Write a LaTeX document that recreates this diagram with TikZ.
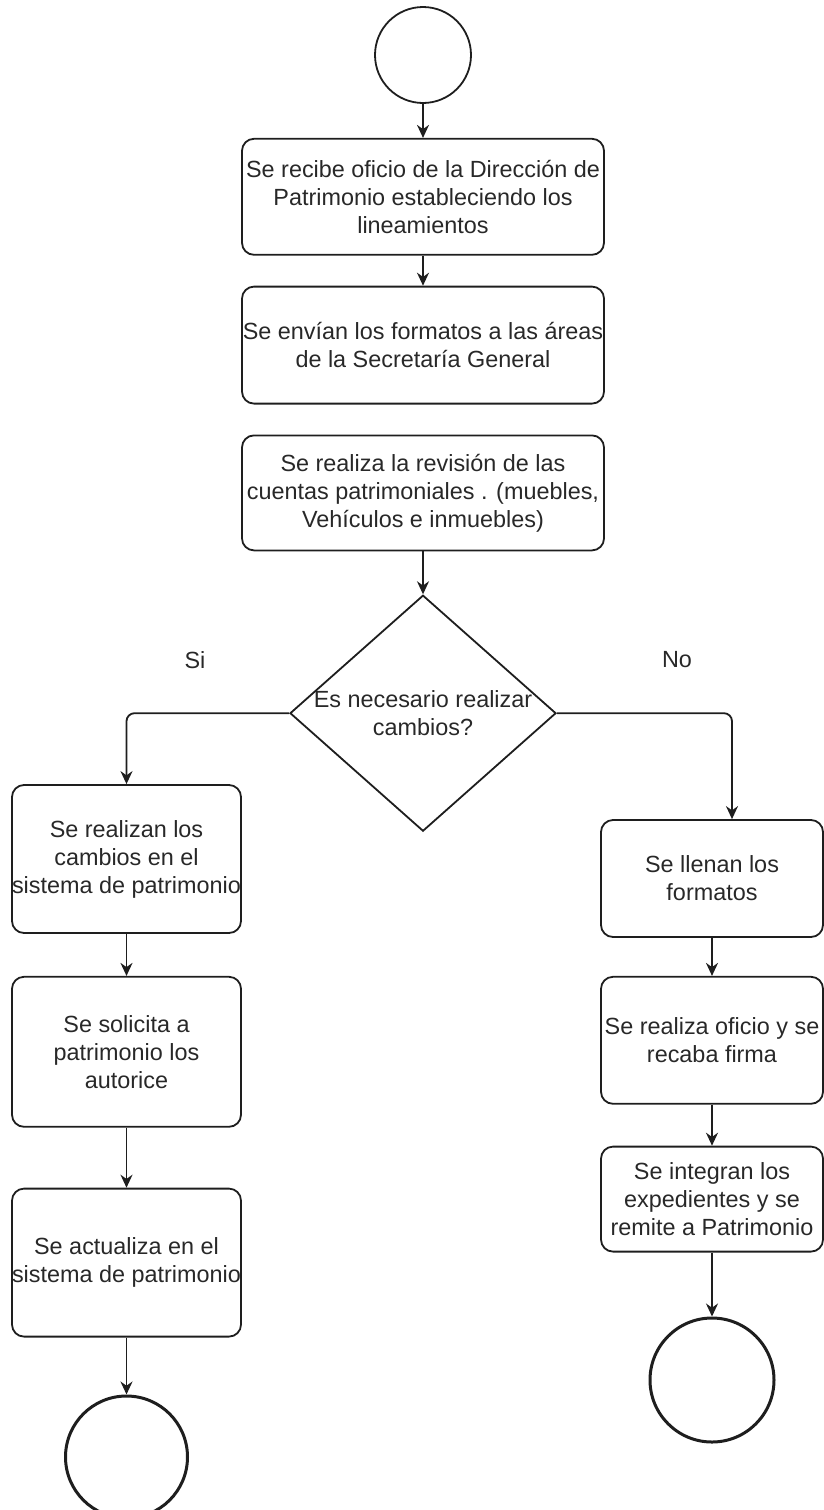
\documentclass[tikz,border=0pt]{standalone}
\usepackage{fontspec}
\setmainfont{Liberation Sans}
\usepackage{tikz}
\usetikzlibrary{arrows.meta, shapes.geometric, positioning}
\definecolor{InkDark}{RGB}{30,30,30}
\definecolor{TextGray}{RGB}{40,40,40}

\begin{document}
\begin{tikzpicture}[
    proc/.style={draw=InkDark,line width=0.9pt,rounded corners=6pt,
                 font=\fontsize{11.7}{14}\selectfont,text=TextGray,
                 inner xsep=0pt,inner ysep=2pt,align=center},
    term/.style={draw=InkDark,circle,inner sep=0pt},
    dec/.style={draw=InkDark,line width=0.9pt,diamond,aspect=1.127,inner sep=0pt,
                minimum width=133pt,minimum height=118pt,
                font=\fontsize{11.7}{14}\selectfont,text=TextGray,align=center},
    lbl/.style={font=\fontsize{11.7}{14}\selectfont,text=TextGray},
    arr/.style={-{Stealth[length=6.5pt,width=6pt]},InkDark,line width=0.9pt}
  ]
  \useasboundingbox (0,0) rectangle (412pt,-755pt);

  % main column
  \node[term,line width=0.9pt,minimum size=48pt] (start) at (211.5pt,-27.5pt) {};
  \node[proc,minimum width=181pt,minimum height=58pt,below=17pt of start] (oficio)
    {Se recibe oficio de la Dirección de\\Patrimonio estableciendo los\\lineamientos};
  \node[proc,minimum width=181pt,minimum height=58.5pt,below=15pt of oficio] (envio)
    {Se envían los formatos a las áreas\\de la Secretaría General};
  \node[proc,minimum width=181pt,minimum height=57.5pt,below=15pt of envio] (revision)
    {Se realiza la revisión de las\\cuentas patrimoniales . (muebles,\\Vehículos e inmuebles)};
  \node[dec,below=21.5pt of revision] (cambios)
    {\makebox[80pt]{Es necesario realizar}\\cambios?};

  \node[lbl] (si) at (97.5pt,-330pt) {Si};
  \node[lbl] (no) at (338.5pt,-330pt) {No};

  % rama Si
  \node[proc,minimum width=114.5pt,minimum height=74pt] (realizan) at (63.25pt,-429.5pt)
    {Se realizan los\\cambios en el\\sistema de patrimonio};
  \node[proc,minimum width=114.5pt,minimum height=75pt,below=21pt of realizan] (solicita)
    {Se solicita a\\patrimonio los\\autorice};
  \node[proc,minimum width=114.5pt,minimum height=74pt,below=30pt of solicita] (actualiza)
    {Se actualiza en el\\sistema de patrimonio};
  \node[term,line width=1.5pt,minimum size=61pt,below=28.5pt of actualiza] (finsi) {};

  % rama No
  \node[proc,minimum width=111pt,minimum height=58.5pt] (llenan) at (356pt,-439.25pt)
    {Se llenan los\\formatos};
  \node[proc,minimum width=111pt,minimum height=63.5pt,below=19pt of llenan] (firma)
    {Se realiza oficio y se\\recaba firma};
  \node[proc,minimum width=111pt,minimum height=52.5pt,below=20.5pt of firma] (integran)
    {Se integran los\\expedientes y se\\remite a Patrimonio};
  \node[term,line width=1.5pt,minimum size=62pt,below=32pt of integran] (finno) {};

  \draw[arr] (start) -- (oficio);
  \draw[arr] (oficio) -- (envio);
  \draw[arr] (revision) -- (cambios);
  \draw[arr,rounded corners=4pt] (cambios.west) -| (realizan.north);
  \draw[arr,rounded corners=4pt] (cambios.east) -| ([xshift=10pt]llenan.north);
  \draw[arr] (realizan) -- (solicita);
  \draw[arr] (solicita) -- (actualiza);
  \draw[arr] (actualiza) -- (finsi);
  \draw[arr] (llenan) -- (firma);
  \draw[arr] (firma) -- (integran);
  \draw[arr] (integran) -- (finno);
\end{tikzpicture}
\end{document}
